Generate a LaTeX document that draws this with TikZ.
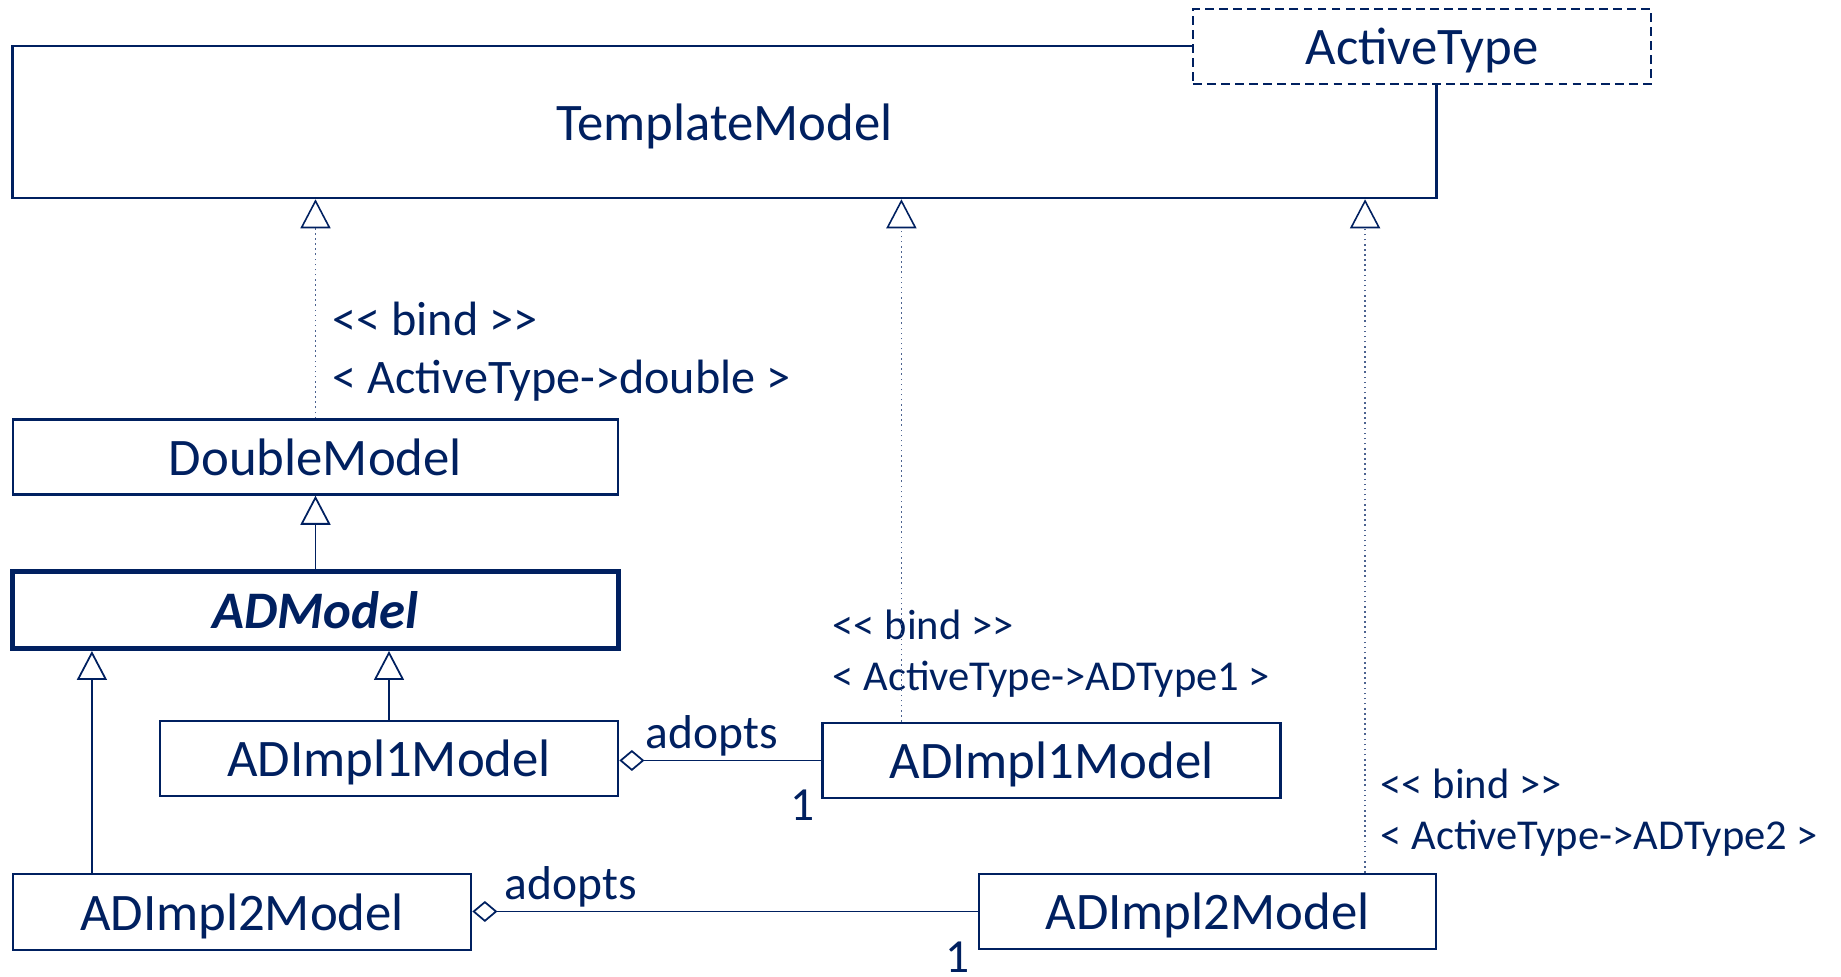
\documentclass[tikz,border=0pt]{standalone}
\usepackage{fontspec}
\setmainfont{Carlito}
\usetikzlibrary{arrows.meta}
\definecolor{navy}{HTML}{002060}
\newcommand\bindtag{<\kern0pt< bind >\kern0pt>}
\tikzset{
  classbox/.style={draw=navy, fill=white, text=navy, line width=0.7pt, inner sep=0pt,
    text depth=0pt, minimum height=0.75cm, font=\fontsize{15pt}{18pt}\selectfont},
  bindlabel/.style={text=navy, inner sep=0pt, anchor=base west,
    font=\fontsize{12.1pt}{14pt}\selectfont},
  adoptlabel/.style={text=navy, inner sep=0pt, font=\fontsize{13.5pt}{16pt}\selectfont},
  generalize/.style={draw=navy, line width=0.5pt,
    -{Triangle[open,width=0.3cm,length=0.29cm]}},
  realize/.style={draw=navy!70, line width=0.45pt, densely dotted,
    -{Triangle[open,width=0.3cm,length=0.29cm,color=navy]}},
  adopt/.style={draw=navy, line width=0.5pt,
    -{Diamond[open,width=0.21cm,length=0.25cm]}},
}
\begin{document}
\begin{tikzpicture}[x=0.01cm, y=-0.01cm]
  \useasboundingbox (0,0) rectangle (1841,977);
  % classes
  \node[classbox, minimum width=14.23cm, minimum height=1.52cm] (template) at (724.5,122) {TemplateModel};
  \node[classbox, dash pattern=on 2.5pt off 1.5pt, minimum width=4.58cm] (activetype) at (1422,46.5) {ActiveType};
  \node[classbox, minimum width=6.05cm] (double) at (315.5,457) {DoubleModel};
  \node[classbox, line width=1.4pt, minimum width=6.05cm, minimum height=0.77cm,
    font=\fontsize{15pt}{18pt}\selectfont\bfseries\itshape] (admodel) at (315.5,610) {ADModel};
  \node[classbox, minimum width=4.58cm] (implone) at (389,758.5) {ADImpl1Model};
  \node[classbox, minimum width=4.58cm] (imploneb) at (1051.5,760.5) {ADImpl1Model};
  \node[classbox, minimum width=4.58cm, minimum height=0.76cm] (impltwo) at (242,912) {ADImpl2Model};
  \node[classbox, minimum width=4.57cm] (impltwob) at (1207.5,911.5) {ADImpl2Model};
  % bindings
  \node[bindlabel, font=\fontsize{13.7pt}{16pt}\selectfont] (binddouble) at (332,336) {\bindtag};
  \node[bindlabel, font=\fontsize{13.7pt}{16pt}\selectfont] (typedouble) at (332,394) {< ActiveType->double >};
  \node[bindlabel] (bindone) at (832,640) {\bindtag};
  \node[bindlabel] (typeone) at (832,691) {< ActiveType->ADType1 >};
  \node[bindlabel] (bindtwo) at (1380,799) {\bindtag};
  \node[bindlabel] (typetwo) at (1380,850) {< ActiveType->ADType2 >};
  % generalizations
  \draw[realize] (double.north) -- (double.north |- template.south);
  \draw[generalize] (admodel.north) -- (double.south);
  \draw[generalize] (implone.north) -- (implone.north |- admodel.south);
  \draw[generalize] ([xshift=-1.5cm]impltwo.north) -- ([xshift=-1.5cm]impltwo.north |- admodel.south);
  \draw[realize] ([xshift=-1.5cm]imploneb.north) -- ([xshift=-1.5cm]imploneb.north |- template.south);
  \draw[realize] ([xshift=1.575cm]impltwob.north) -- ([xshift=1.575cm]impltwob.north |- template.south);
  % aggregations
  \draw[adopt] (imploneb.west) -- (imploneb.west -| implone.east);
  \draw[adopt] (impltwob.west) -- (impltwob.west -| impltwo.east);
  \node[adoptlabel, anchor=base west] (adoptone) at (645,749) {adopts};
  \node[adoptlabel, anchor=base] (multone) at (803,821) {1};
  \node[adoptlabel, anchor=base west] (adopttwo) at (504,900) {adopts};
  \node[adoptlabel, anchor=base] (multtwo) at (958,973) {1};
\end{tikzpicture}
\end{document}
